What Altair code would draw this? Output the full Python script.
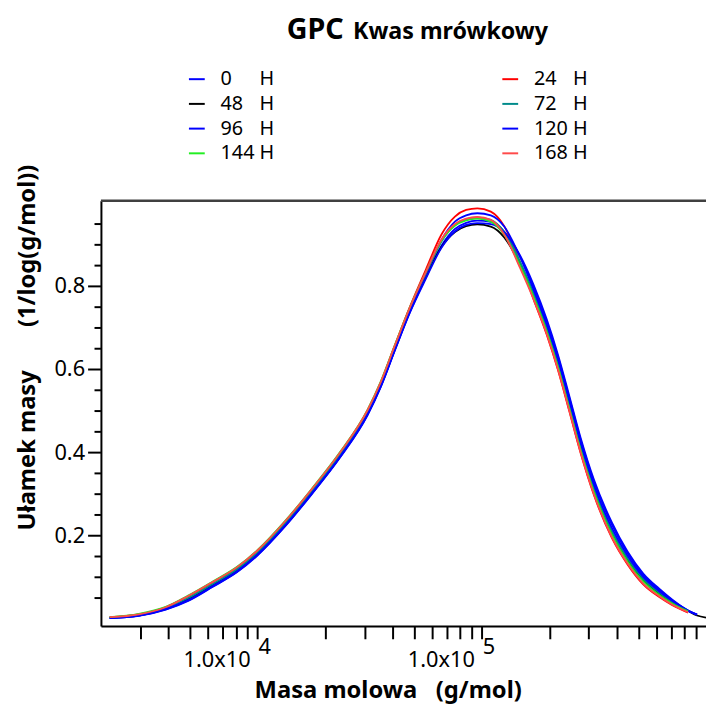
import altair as alt
import pandas as pd

# log10 of molar mass at which the curves were read
LOG_M = [3.34, 3.47, 3.59, 3.69, 3.80, 3.91, 4.00, 4.12, 4.24, 4.37, 4.49, 4.55,
         4.61, 4.68, 4.75, 4.82, 4.88, 4.93, 4.98, 5.04, 5.10, 5.17, 5.23, 5.29,
         5.34, 5.39, 5.44, 5.50, 5.58, 5.65, 5.72, 5.79, 5.85, 5.92, 5.96, 6.00]

H0 = [0.002, 0.008, 0.023, 0.044, 0.078, 0.114, 0.154, 0.222, 0.300, 0.391, 0.491, 0.560,
      0.644, 0.739, 0.822, 0.898, 0.938, 0.953, 0.958, 0.955, 0.932, 0.872, 0.800, 0.715,
      0.630, 0.532, 0.432, 0.330, 0.227, 0.158, 0.105, 0.070, 0.044, 0.020, 0.010, None]
H24 = [0.004, 0.011, 0.028, 0.054, 0.088, 0.124, 0.164, 0.232, 0.310, 0.401, 0.501, 0.570,
       0.655, 0.752, 0.840, 0.925, 0.968, 0.984, 0.988, 0.980, 0.945, 0.858, 0.770, 0.683,
       0.598, 0.500, 0.400, 0.298, 0.195, 0.131, 0.083, 0.053, 0.033, 0.015, None, None]
H48 = [0.003, 0.009, 0.025, 0.048, 0.082, 0.118, 0.158, 0.226, 0.304, 0.395, 0.495, 0.564,
       0.648, 0.742, 0.822, 0.895, 0.931, 0.945, 0.949, 0.944, 0.918, 0.853, 0.780, 0.695,
       0.610, 0.512, 0.412, 0.310, 0.207, 0.142, 0.093, 0.061, 0.039, 0.019, 0.008, 0.003]
H72 = [0.003, 0.010, 0.026, 0.050, 0.084, 0.120, 0.160, 0.228, 0.306, 0.397, 0.497, 0.566,
       0.650, 0.745, 0.828, 0.908, 0.948, 0.962, 0.966, 0.960, 0.931, 0.860, 0.785, 0.700,
       0.615, 0.517, 0.417, 0.315, 0.212, 0.146, 0.097, 0.064, 0.041, 0.020, None, None]
H96 = [0.002, 0.008, 0.024, 0.045, 0.079, 0.115, 0.155, 0.223, 0.301, 0.392, 0.492, 0.561,
       0.645, 0.742, 0.830, 0.912, 0.956, 0.971, 0.976, 0.971, 0.944, 0.872, 0.793, 0.707,
       0.622, 0.524, 0.424, 0.322, 0.219, 0.152, 0.101, 0.067, 0.043, 0.019, 0.010, None]
H120 = [0.002, 0.007, 0.022, 0.043, 0.077, 0.113, 0.153, 0.221, 0.299, 0.390, 0.490, 0.559,
        0.643, 0.738, 0.818, 0.893, 0.932, 0.948, 0.952, 0.950, 0.930, 0.875, 0.805, 0.720,
        0.635, 0.537, 0.437, 0.335, 0.232, 0.162, 0.109, 0.073, 0.046, 0.020, 0.010, None]
H144 = [0.004, 0.012, 0.029, 0.056, 0.090, 0.126, 0.166, 0.234, 0.312, 0.403, 0.503, 0.572,
        0.656, 0.751, 0.834, 0.910, 0.946, 0.959, 0.963, 0.956, 0.924, 0.851, 0.776, 0.691,
        0.606, 0.508, 0.408, 0.306, 0.203, 0.138, 0.090, 0.058, 0.037, 0.018, None, None]
H168 = [0.004, 0.011, 0.028, 0.055, 0.089, 0.125, 0.165, 0.233, 0.311, 0.402, 0.502, 0.571,
        0.655, 0.750, 0.834, 0.913, 0.950, 0.963, 0.967, 0.960, 0.925, 0.845, 0.770, 0.685,
        0.600, 0.502, 0.402, 0.300, 0.197, 0.133, 0.085, 0.055, 0.034, 0.016, None, None]

FS = "\u2007"  # figure space (digit width)
L0, L24, L48, L72 = "0" + FS + FS + " H", "24" + FS + " H", "48" + FS + " H", "72" + FS + " H"
L96, L120, L144, L168 = "96" + FS + " H", "120 H", "144 H", "168 H"
SERIES = [L0, L24, L48, L72, L96, L120, L144, L168]
VALUES = [H0, H24, H48, H72, H96, H120, H144, H168]
COLOR_OF = {L0: "#0000ff", L24: "#ff0000", L48: "#000000", L72: "#008b8b",
            L96: "#0000ff", L120: "#0000ff", L144: "#22ee22", L168: "#ff4a4a"}
# legend fills column by column: left column first, then right column
LEGEND_ORDER = [L0, L48, L96, L144, L24, L72, L120, L168]

X_TICKS = [3000, 4000, 5000, 6000, 7000, 8000, 9000, 10000,
           20000, 30000, 40000, 50000, 60000, 70000, 80000, 90000, 100000,
           200000, 300000, 400000, 500000, 600000, 700000, 800000, 900000]
Y_MAJOR = [0.2, 0.4, 0.6, 0.8]
Y_MINOR = [0.05, 0.1, 0.15, 0.25, 0.3, 0.35, 0.45, 0.5, 0.55, 0.65, 0.7, 0.75, 0.85, 0.9, 0.95]
LAB_M = [10000, 100000]
LAB_T = ["1.0x10", "1.0x10"]
SUP_T = ["4", "5"]

W, H = 612, 430
FONT = "Noto Sans"

rows = []
for name, vals in zip(SERIES, VALUES):
    for lm, v in zip(LOG_M, vals):
        if v is not None:
            rows.append({"M": 10 ** lm, "v": v, "series": name})
df = pd.DataFrame(rows)

xscale = alt.Scale(type="log", domain=[2000, 1000000], nice=False)
yscale = alt.Scale(domain=[-0.017, 1.006], nice=False, zero=False)

lines = alt.Chart(df).mark_line(strokeWidth=1.8, interpolate="monotone").encode(
    x=alt.X("M:Q", scale=xscale,
            axis=alt.Axis(values=X_TICKS, grid=False, tickSize=13, tickWidth=2, tickColor="black",
                          domainColor="black", domainWidth=2, labels=False,
                          title="Masa molowa\u00a0\u00a0\u00a0(g/mol)", titleFont=FONT, titleFontSize=24,
                          titleFontWeight="bold", titleColor="black", titleX=290, titleY=72,
                          titleAlign="center", titleBaseline="alphabetic")),
    y=alt.Y("v:Q", scale=yscale,
            axis=alt.Axis(values=Y_MAJOR, grid=False, ticks=False, labels=False,
                          domainColor="black", domainWidth=2,
                          title="Ułamek masy" + "\u00a0" * 7 + "(1/log(g/mol))", titleFont=FONT,
                          titleFontSize=24, titleFontWeight="bold", titleColor="black",
                          titleAngle=270, titleX=-67, titleY=333, titleAlign="left",
                          titleBaseline="alphabetic")),
    color=alt.Color("series:N",
                    scale=alt.Scale(domain=LEGEND_ORDER, range=[COLOR_OF[s] for s in LEGEND_ORDER]),
                    legend=alt.Legend(title=None, orient="none", legendX=87, legendY=-133, columns=2,
                                      columnPadding=226, rowPadding=5, symbolType="stroke",
                                      symbolSize=256, symbolStrokeWidth=2, labelFontSize=20,
                                      labelFont=FONT, labelColor="black", labelOffset=14, padding=0)),
    detail="series:N",
)

major_df = pd.DataFrame({"v": Y_MAJOR})
major_ticks = alt.Chart(major_df).mark_rule(color="black", strokeWidth=2).encode(
    y=alt.Y("v:Q", scale=yscale), x=alt.value(-13), x2=alt.value(0)
)
ylab = alt.Chart(major_df).mark_text(
    align="right", baseline="middle", fontSize=22, font=FONT, color="black"
).encode(y=alt.Y("v:Q", scale=yscale), x=alt.value(-16), text=alt.Text("v:Q", format=".1f"))

minor_ticks = alt.Chart(pd.DataFrame({"v": Y_MINOR})).mark_rule(color="black", strokeWidth=2).encode(
    y=alt.Y("v:Q", scale=yscale), x=alt.value(-6.5), x2=alt.value(0)
)

lab_df = pd.DataFrame({"M": LAB_M, "t": LAB_T, "s": SUP_T})
xlab = alt.Chart(lab_df).mark_text(
    align="right", baseline="alphabetic", fontSize=22, font=FONT, color="black", dx=-7
).encode(x=alt.X("M:Q", scale=xscale), y=alt.value(H + 42), text="t:N")

sup = alt.Chart(lab_df).mark_text(
    align="left", baseline="alphabetic", fontSize=22, font=FONT, color="black", dx=1
).encode(x=alt.X("M:Q", scale=xscale), y=alt.value(H + 28), text="s:N")

top = alt.Chart(pd.DataFrame({"a": [0]})).mark_rule(color="#404040", strokeWidth=2.5).encode(
    x=alt.value(0), x2=alt.value(W), y=alt.value(0)
)

t1 = alt.Chart(pd.DataFrame({"t": ["GPC"]})).mark_text(
    align="left", baseline="alphabetic", fontSize=29, fontWeight="bold", font=FONT, color="black"
).encode(x=alt.value(188), y=alt.value(-164), text="t:N")

t2 = alt.Chart(pd.DataFrame({"t": ["Kwas mrówkowy"]})).mark_text(
    align="left", baseline="alphabetic", fontSize=23.5, fontWeight="bold", font=FONT, color="black"
).encode(x=alt.value(255), y=alt.value(-164), text="t:N")

chart = alt.layer(lines, major_ticks, minor_ticks, ylab, xlab, sup, top, t1, t2).properties(
    width=W, height=H,
    autosize=alt.AutoSizeParams(type="none"),
    padding={"left": 94, "top": 191, "right": 0, "bottom": 76},
).configure_view(stroke="transparent").configure(font=FONT)

chart.save("out.html", embed_options={"renderer": "svg", "actions": False})
